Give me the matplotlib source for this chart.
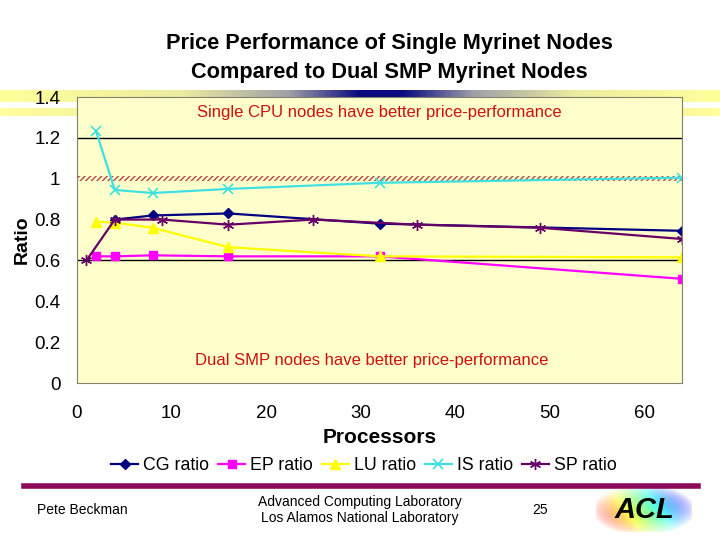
import numpy as np
import matplotlib
matplotlib.use("Agg")
import matplotlib.pyplot as plt
from matplotlib.colors import LinearSegmentedColormap

plt.rcParams['font.family'] = ['Liberation Sans', 'DejaVu Sans']

# Data
cg_x = [4, 8, 16, 32, 64]
cg_y = [0.80, 0.82, 0.83, 0.78, 0.745]
ep_x = [2, 4, 8, 16, 32, 64]
ep_y = [0.62, 0.62, 0.625, 0.62, 0.62, 0.51]
lu_x = [2, 4, 8, 16, 32, 64]
lu_y = [0.79, 0.785, 0.76, 0.665, 0.62, 0.615]
is_x = [2, 4, 8, 16, 32, 64]
is_y = [1.235, 0.945, 0.93, 0.95, 0.98, 1.005]
sp_x = [1, 4, 9, 16, 25, 36, 49, 64]
sp_y = [0.60, 0.80, 0.80, 0.775, 0.80, 0.775, 0.76, 0.705]

title = "Price Performance of Single Myrinet Nodes\nCompared to Dual SMP Myrinet Nodes"
yticks = [0, 0.2, 0.4, 0.6, 0.8, 1.0, 1.2, 1.4]
ytick_labels = ["0", "0.2", "0.4", "0.6", "0.8", "1", "1.2", "1.4"]
xticks = [0, 10, 20, 30, 40, 50, 60]

fig = plt.figure(figsize=(7.2, 5.4), dpi=100)

# decorative gradient bands behind the top of the plot
band_cmap = LinearSegmentedColormap.from_list(
    "band", [(0, "#FFFF9C"), (0.25, "#ECECA0"), (0.40, "#A0A0A8"), (0.50, "#0A0A80"),
             (0.56, "#0A0A80"), (0.66, "#A0A0A8"), (0.80, "#ECECA0"), (1, "#FFFF9C")])
grad = np.linspace(0, 1, 400).reshape(1, -1)
for top, bot in [(90, 102), (108, 116)]:
    bax = fig.add_axes([0, 1 - bot / 540, 1, (bot - top) / 540])
    bax.imshow(grad, aspect="auto", cmap=band_cmap)
    bax.axis("off")

ax = fig.add_axes([77 / 720, 1 - 383 / 540, 605 / 720, 286 / 540])
ax.set_facecolor("#FFFFCC")

ax.axhspan(0.99, 1.015, facecolor="none", edgecolor="#B04848", hatch="//////", linewidth=0)
ax.axhline(1.2, color="black", lw=1)
ax.axhline(0.6, color="black", lw=1)

ax.plot(cg_x, cg_y, color="#000080", marker="D", ms=5, lw=1.6, label="CG ratio")
ax.plot(ep_x, ep_y, color="#FF00FF", marker="s", ms=6, lw=1.6, label="EP ratio")
ax.plot(lu_x, lu_y, color="#FFFF00", marker="^", ms=7, lw=1.6, label="LU ratio")
ax.plot(is_x, is_y, color="#40E0E0", marker="x", ms=7, mew=1.2, lw=1.6, label="IS ratio")
ax.plot(sp_x, sp_y, color="#660066", marker=(6, 2, 0), ms=8, mew=1, lw=1.6, label="SP ratio")

ax.set_xlim(0, 64)
ax.set_ylim(0, 1.4)
ax.set_yticks(yticks)
ax.set_yticklabels(ytick_labels)
ax.set_xticks(xticks)
ax.set_yticks([0.6, 1.2], minor=True)
ax.set_xticks([30, 40], minor=True)
ax.tick_params(which="major", length=0, labelsize=13.5)
ax.tick_params(axis="x", which="major", pad=16)
ax.tick_params(axis="y", which="major", pad=12)
ax.tick_params(which="minor", length=6, color="black", width=1)
for s in ax.spines.values():
    s.set_color("#808070")

ax.text(0.5, 0.945, "Single CPU nodes have better price-performance", transform=ax.transAxes,
        ha="center", va="center", color="#CC1010", fontsize=12)
ax.text(0.487, 0.08, "Dual SMP nodes have better price-performance", transform=ax.transAxes,
        ha="center", va="center", color="#CC1010", fontsize=12)

ax.set_xlabel("Processors", fontsize=15, fontweight="bold", labelpad=4)
fig.text(22 / 720, 1 - 240 / 540, "Ratio", rotation=90, ha="center", va="center",
         fontsize=14, fontweight="bold")

fig.text(389 / 720, 1 - 58 / 540, title, ha="center", va="center", fontsize=15.7,
         fontweight="bold", linespacing=1.45)

ax.legend(loc="center", bbox_to_anchor=(364 / 720, 1 - 466 / 540),
          bbox_transform=fig.transFigure, ncol=5, frameon=False, fontsize=12.8,
          handlelength=1.5, handletextpad=0.3, columnspacing=0.5)

# footer
fig.add_artist(plt.Line2D([24 / 720, 698 / 720], [1 - 486 / 540, 1 - 486 / 540],
                          color="#8B0A5A", lw=4))
fig.text(82 / 720, 1 - 510 / 540, "Pete Beckman", ha="center", va="center", fontsize=10)
fig.text(360 / 720, 1 - 510 / 540, "Advanced Computing Laboratory\nLos Alamos National Laboratory",
         ha="center", va="center", fontsize=10, linespacing=1.2)
fig.text(540 / 720, 1 - 510 / 540, "25", ha="center", va="center", fontsize=10)

# logo
lax = fig.add_axes([596 / 720, 1 - 532 / 540, 96 / 720, 44 / 540])
yy, xx = np.mgrid[0:1:40j, 0:1:90j]
logo = (1 - xx) * 0.75 + yy * 0.25
fade = np.clip(1 - ((xx - 0.5) / 0.55) ** 2 - ((yy - 0.5) / 0.6) ** 2, 0, 1)
lax.imshow(logo, aspect="auto", cmap="jet", alpha=0.8 * fade)
lax.text(0.5, 0.5, "ACL", transform=lax.transAxes, ha="center", va="center",
         fontsize=21, fontweight="bold", fontstyle="italic", color="black")
lax.axis("off")

fig.savefig("out.png", dpi=100)
